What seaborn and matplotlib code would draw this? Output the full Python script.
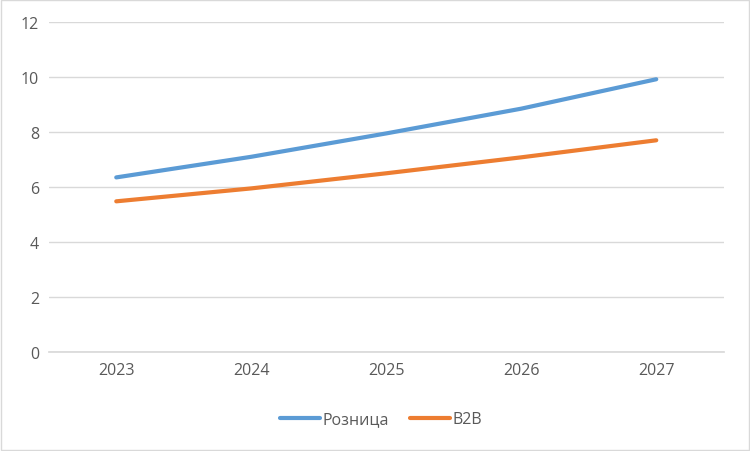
import pandas as pd
import matplotlib.pyplot as plt
import seaborn as sns

# data
years = ["2023", "2024", "2025", "2026", "2027"]
retail = [6.35, 7.1, 7.95, 8.85, 9.92]
b2b = [5.48, 5.95, 6.5, 7.08, 7.7]
series_names = ["Розница", "B2B"]

df = pd.DataFrame({"Год": years, series_names[0]: retail, series_names[1]: b2b})
df = pd.melt(df, id_vars=["Год"], var_name="Серия", value_name="Значение")

sns.set_theme()
sns.set_style("white")
plt.rcParams['font.family'] = ['Open Sans', 'DejaVu Sans']

fig = plt.figure(figsize=(7.5, 4.52), dpi=100)
ax = fig.add_axes([0.065, 0.219, 0.9, 0.73])

ax = sns.lineplot(data=df, x="Год", y="Значение", hue="Серия", sort=False,
                  palette=["#5B9BD5", "#ED7D31"], linewidth=3, ax=ax, legend=False)

ax.set_ylim(0, 12)
ax.set_yticks(range(0, 13, 2))
ax.set_xlim(-0.5, len(years) - 0.5)
ax.set(xlabel='', ylabel='')
ax.yaxis.grid(True, color="#D9D9D9", linewidth=1)
ax.set_axisbelow(True)
for s in ["top", "right", "left"]:
    ax.spines[s].set_visible(False)
ax.spines["bottom"].set_color("#D9D9D9")
ax.tick_params(axis="both", colors="#595959", labelsize=11.5, length=0, pad=7)

handles = [plt.Line2D([], [], color=c, linewidth=3) for c in ["#5B9BD5", "#ED7D31"]]
leg = fig.legend(handles, series_names, loc="center", bbox_to_anchor=(0.508, 0.07), ncol=2,
                 frameon=False, fontsize=11.5, handlelength=2.5, handletextpad=0.15, columnspacing=1.3)
for t in leg.get_texts():
    t.set_color("#595959")

# thin outer border like the original chart frame
fig.patches.append(plt.Rectangle((0.001, 0.002), 0.997, 0.995, transform=fig.transFigure,
                                 fill=False, edgecolor="#D9D9D9", linewidth=1))

plt.savefig("out.png", dpi=100)
